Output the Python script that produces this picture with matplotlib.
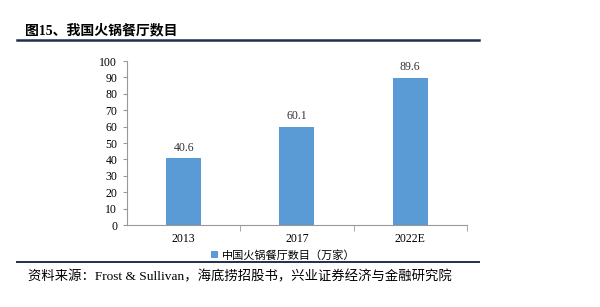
import matplotlib
matplotlib.use("Agg")
import matplotlib.pyplot as plt
from matplotlib.lines import Line2D

# data
years = ["2013", "2017", "2022E"]
counts = [40.6, 60.1, 89.6]
yticks = [0, 10, 20, 30, 40, 50, 60, 70, 80, 90, 100]
legend_label = "中国火锅餐厅数目（万家）"
title = "图15、我国火锅餐厅数目"
source = "资料来源：Frost & Sullivan，海底捞招股书，兴业证券经济与金融研究院"

cjk = ["Liberation Serif", "Noto Sans CJK SC", "DejaVu Sans"]
plt.rcParams["font.family"] = cjk

fig = plt.figure(figsize=(6, 3.07), dpi=100)
fig.patch.set_facecolor("white")

ax = fig.add_axes([0.2117, 0.267, 0.5663, 0.534])
x = range(len(years))
bars = ax.bar(x, counts, width=0.31, color="#5B9BD5")
for xi, v in zip(x, counts):
    ax.text(xi, v + 3, f"{v:.1f}", ha="center", va="bottom", fontsize=8.5,
            family="Liberation Serif", color="#333333")

ax.set_xlim(-0.5, 2.5)
ax.set_ylim(0, 100)
ax.set_yticks(yticks)
ax.set_yticklabels([str(t) for t in yticks], fontsize=8.5, family="Liberation Serif")
ax.set_xticks(list(x))
ax.set_xticklabels(years, fontsize=8.5, family="Liberation Serif")
ax.tick_params(axis="x", length=0, pad=6)
ax.set_xticks([0.5, 1.5, 2.5], minor=True)
ax.tick_params(axis="x", which="minor", length=4, color="#999999", direction="out")
ax.tick_params(axis="y", length=3, color="#999999", pad=4)
for s in ["top", "right"]:
    ax.spines[s].set_visible(False)
for s in ["left", "bottom"]:
    ax.spines[s].set_color("#999999")
    ax.spines[s].set_linewidth(0.8)

ax.legend([bars], [legend_label], loc="center", bbox_to_anchor=(0.46, -0.185),
          frameon=False, handlelength=0.6, handleheight=0.6,
          handletextpad=0.4, prop={"family": ["Noto Sans CJK SC"], "size": 8})

# title and rules
fig.text(0.042, 0.902, title, fontsize=10, fontweight="bold", va="center",
         family=["Liberation Serif", "Noto Sans CJK SC"])
fig.add_artist(Line2D([0.028, 0.798], [0.870, 0.870], color="#1F2F4F", lw=1.8))
fig.add_artist(Line2D([0.028, 0.798], [0.146, 0.146], color="#1F2F4F", lw=1.4))
fig.text(0.047, 0.098, source, fontsize=9.6, va="center",
         family=["Liberation Serif", "Noto Sans CJK SC"])

fig.savefig("out.png", dpi=100)
